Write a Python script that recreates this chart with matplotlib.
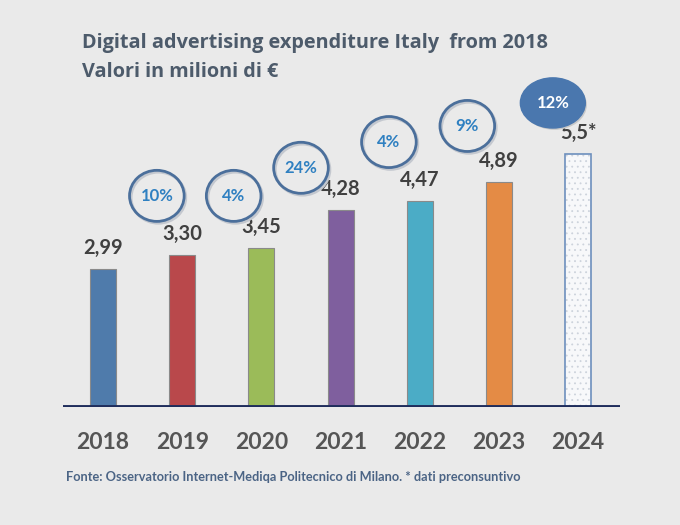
import numpy as np
import matplotlib
matplotlib.use("Agg")
import matplotlib.pyplot as plt
from matplotlib.patches import Ellipse

# dati
anni = ["2018", "2019", "2020", "2021", "2022", "2023", "2024"]
valori = [2.99, 3.30, 3.45, 4.28, 4.47, 4.89, 5.5]
etichette = ["2,99", "3,30", "3,45", "4,28", "4,47", "4,89", "5,5*"]
crescita = ["10%", "4%", "24%", "4%", "9%", "12%"]   # dal 2019 al 2024

colori = ["#4f7bab", "#b9484b", "#9bbb59", "#7f5f9e", "#4bacc6", "#e48b45", "#ffffff"]

# posizione dei cerchi rispetto alla barra (unita' dati)
dx_cerchi = [-0.32, -0.35, -0.50, -0.39, -0.40, -0.32]
dy_cerchi = [1.29, 1.14, 0.92, 1.29, 1.22, 1.11]

sfondo = "#eaeaea"
plt.rcParams["font.family"] = ["Lato", "DejaVu Sans"]
plt.rcParams["hatch.linewidth"] = 0.6

fig = plt.figure(figsize=(6.8, 5.25), dpi=100, facecolor=sfondo)
ax = fig.add_axes([63 / 680, 1 - 407 / 525, (620 - 63) / 680, 407 / 525])
ax.set_facecolor("none")

x = np.arange(len(anni))
ax.bar(x[:-1], valori[:-1], width=0.33, color=colori[:-1], edgecolor="#8a8a8a", linewidth=0.8, zorder=2)
# 2024: preconsuntivo, barra punteggiata
ax.bar(x[-1], valori[-1], width=0.33, color="#f7f8fa", edgecolor="#cdd3dc", hatch="...", linewidth=0, zorder=2)
ax.bar(x[-1], valori[-1], width=0.33, color="none", edgecolor="#6d8fbd", linewidth=1.2, zorder=3)

for xi, v, t in zip(x, valori, etichette):
    ax.annotate(t, (xi, v), xytext=(0, 11), textcoords="offset points", ha="center", va="baseline",
                fontsize=14.5, fontweight="bold", color="#404040")

# cerchi con la variazione percentuale
for i, p in enumerate(crescita):
    cx = x[i + 1] + dx_cerchi[i]
    cy = valori[i + 1] + dy_cerchi[i]
    if i == len(crescita) - 1:
        ax.add_patch(Ellipse((cx + 0.02, cy - 0.04), 0.82, 1.09, facecolor="#c9c9c9", edgecolor="none", zorder=3))
        ax.add_patch(Ellipse((cx, cy), 0.82, 1.09, facecolor="#4a77ae", edgecolor="#4a77ae", lw=1, zorder=4))
        tc = "white"
    else:
        ax.add_patch(Ellipse((cx + 0.02, cy - 0.04), 0.69, 1.11, facecolor="none", edgecolor="#c4c8cf", lw=2.0, zorder=3))
        ax.add_patch(Ellipse((cx, cy), 0.69, 1.11, facecolor="none", edgecolor="#4b6f9b", lw=2.0, zorder=4))
        tc = "#2f80c1"
    ax.text(cx, cy, p, ha="center", va="center", fontsize=12, fontweight="bold", color=tc, zorder=5)

ax.axhline(0, color="#1f2d5c", lw=2.8, zorder=3)
ax.set_xlim(-0.505, 6.528)
ax.set_ylim(0, 407 / 46)
ax.set_xticks(x)
ax.set_xticklabels(anni, fontsize=16.5, fontweight="bold", color="#555555")
ax.tick_params(axis="x", length=0, pad=18)
ax.set_yticks([])
for s in ax.spines.values():
    s.set_visible(False)

fig.text(82 / 680, 1 - 43 / 525, "Digital advertising expenditure Italy  from 2018", fontsize=14.3,
         fontweight="bold", color="#4d5b6b", va="center", family=["Open Sans", "DejaVu Sans"])
fig.text(82 / 680, 1 - 72 / 525, "Valori in milioni di €", fontsize=14.3,
         fontweight="bold", color="#4d5b6b", va="center", family=["Open Sans", "DejaVu Sans"])
fig.text(66 / 680, 1 - 477 / 525, "Fonte: Osservatorio Internet-Mediqa Politecnico di Milano. * dati preconsuntivo",
         fontsize=9.2, fontweight="bold", color="#4b6485", va="center")

fig.savefig("out.png", dpi=100, facecolor=sfondo)
